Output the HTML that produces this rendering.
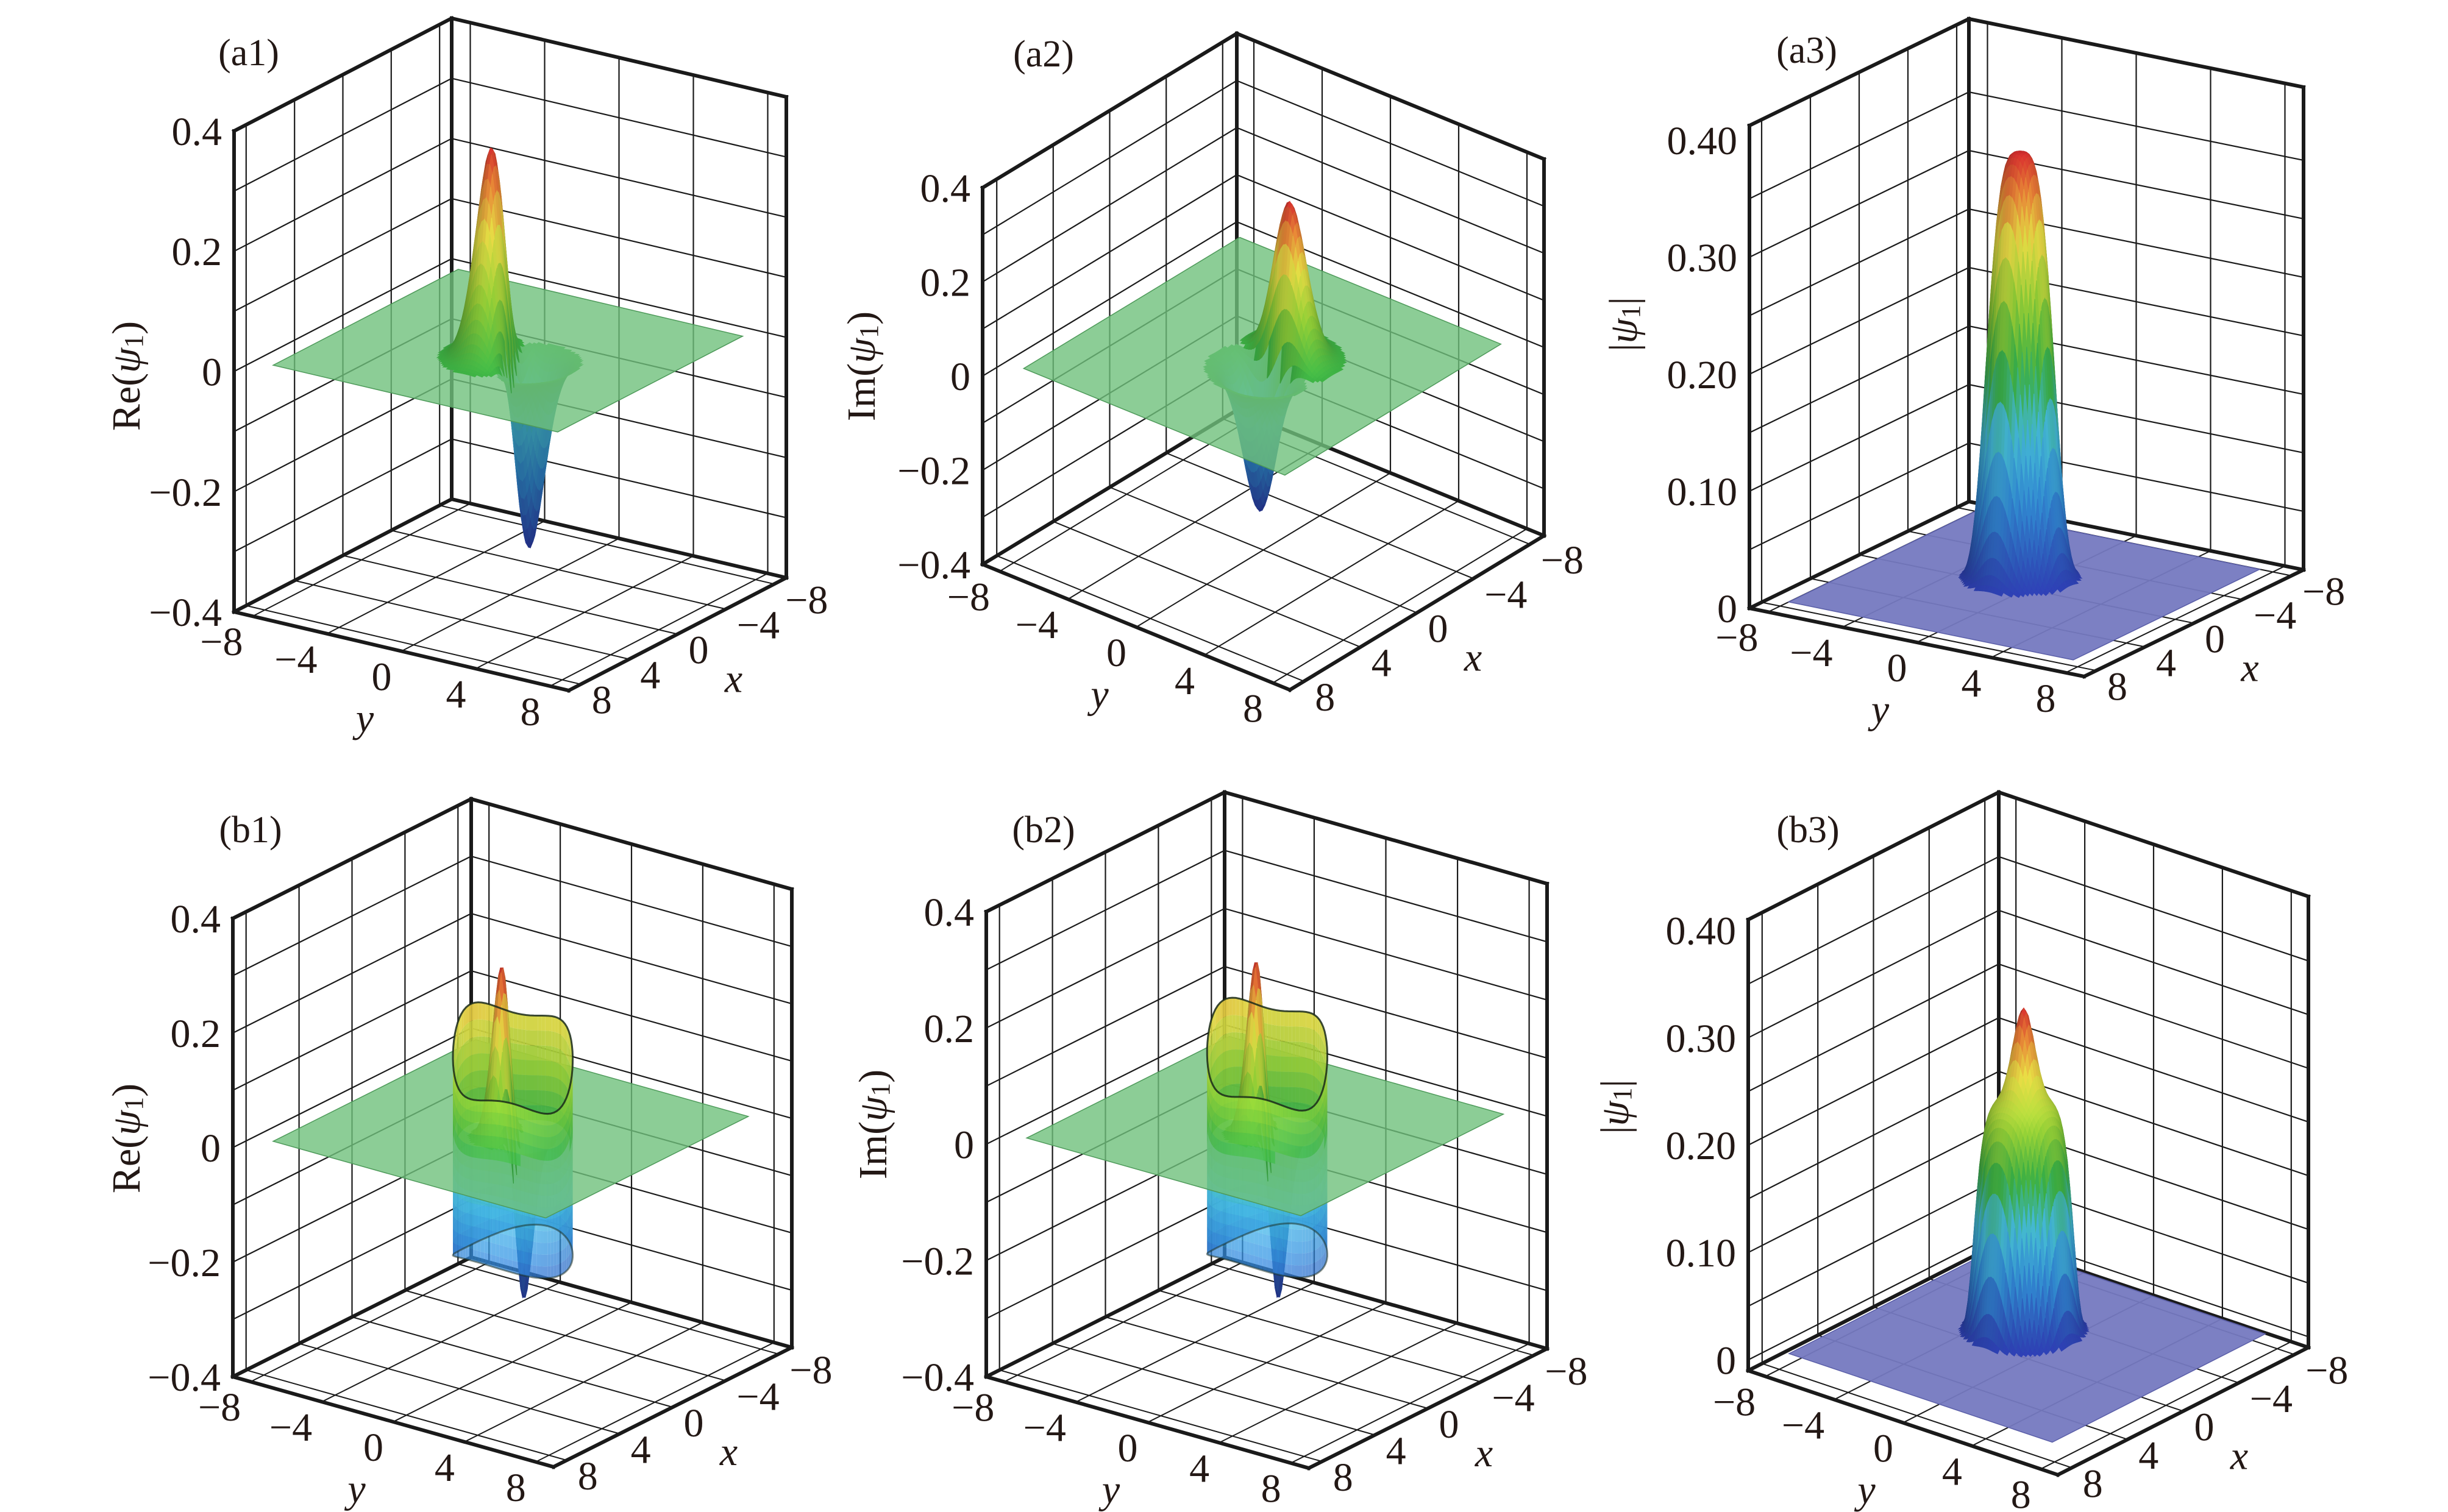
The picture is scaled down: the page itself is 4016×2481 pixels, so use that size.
<!DOCTYPE html>
<html>
<head>
<meta charset="utf-8">
<style>
html,body{margin:0;padding:0;background:#fff;}
svg{display:block;}
text{font-family:"Liberation Serif","DejaVu Serif",serif;fill:#231815;}
</style>
</head>
<body>
<svg id="chart" width="4016" height="2481" viewBox="0 0 4016 2481" xmlns="http://www.w3.org/2000/svg">
<rect x="0" y="0" width="4016" height="2481" fill="#ffffff"/>
</svg>
<script>
// ---- chart data ----
const PANEL_IDS = ['a1','a2','a3','b1','b2','b3'];
const PANEL_KIND = ['re','re','abs','reb','reb','absb'];
const XY_TICKS = [-8,-4,0,4,8];
const XY_LABELS = ['−8','−4','0','4','8'];
const Z_TICKS_RE = [-0.4,-0.2,0,0.2,0.4];
const Z_LABELS_RE = ['−0.4','−0.2','0','0.2','0.4'];
const Z_TICKS_ABS = [0,0.1,0.2,0.3,0.4];
const Z_LABELS_ABS = ['0','0.10','0.20','0.30','0.40'];
const PEAK = [0.35,0.33,0.365,0.30,0.30,0.30];
const TROUGH = [-0.31,-0.30,0,-0.28,-0.28,0];
const SHOULDER = [0,0,0,0,0,0.21];
const CENTER_X = [0.6,-0.2,-1.0,0.5,0.5,-1.4];
const CENTER_Y = [0.4,0.5,-1.0,0.4,0.4,-1.4];
const DIP_ANGLE = [108,-10,0,108,108,0];
const TUBE_RADIUS = [0,0,0,2.7,2.7,0];
const TUBE_TOP_BACK = [0,0,0,0.20,0.20,0];
const TUBE_TOP_FRONT = [0,0,0,0.08,0.08,0];
const TUBE_BOTTOM = [0,0,0,-0.20,-0.20,0];
const TITLE_FN = ['Re','Im','abs','Re','Im','abs'];
const PLANE_RANGE = [-8,7.3];

// ---- layout (pixel geometry, not data) ----
const GEOM = [
 {B:[741,819],L:[384,1004],R:[1290,948],H:789,zmin:-0.4,zmax:0.4,tag:[408,85],title:[214,617]},
 {B:[2029,673],L:[1612,926],R:[2533,879],H:618,zmin:-0.4,zmax:0.4,tag:[1712,87],title:[1420,601]},
 {B:[3230,823],L:[2870,998],R:[3779,935],H:792,zmin:0,zmax:0.4125,tag:[2964,81],title:[2670,532]},
 {B:[773,2063],L:[382,2259],R:[1299,2211],H:752,zmin:-0.4,zmax:0.4,tag:[411,1360],title:[214,1868]},
 {B:[2009,2063],L:[1618,2259],R:[2538,2213],H:763,zmin:-0.4,zmax:0.4,tag:[1712,1360],title:[1439,1845]},
 {B:[3279,2040],L:[2868,2249],R:[3787,2211],H:740,zmin:-0.01,zmax:0.41,tag:[2966,1360],title:[2656,1816]}
];
const XMIN=-9, XMAX=9;
const NS='http://www.w3.org/2000/svg';
const svg=document.getElementById('chart');
const STOPS=[[0,[45,60,175]],[0.2,[50,140,215]],[0.35,[70,190,220]],[0.5,[60,180,70]],[0.65,[150,210,55]],[0.8,[235,225,70]],[0.91,[235,135,55]],[1,[210,45,45]]];
function jet(t){
  t=Math.max(0,Math.min(1,t));
  for(let i=1;i<STOPS.length;i++){
    if(t<=STOPS[i][0]){
      const a=STOPS[i-1],b=STOPS[i];const f=(t-a[0])/(b[0]-a[0]);
      return [0,1,2].map(k=>a[1][k]+(b[1][k]-a[1][k])*f);
    }
  }
  return STOPS[STOPS.length-1][1];
}
function surf(i,x,y){
  const dx=x-CENTER_X[i], dy=y-CENTER_Y[i];
  const r2=dx*dx+dy*dy, r=Math.sqrt(r2);
  const ang=DIP_ANGLE[i]*Math.PI/180;
  const u=dx*Math.cos(ang)+dy*Math.sin(ang);
  const k=PANEL_KIND[i];
  const dip=(s)=>{const v=-(u/s)*Math.exp(-r2/(s*s))/0.4289;return v>0?v*PEAK[i]:v*(-TROUGH[i]);};
  if(k==='re'){return dip(1.25);}
  if(k==='reb'){return dip(0.75);}
  if(k==='abs'){return PEAK[i]*Math.exp(-Math.pow(r/1.7,3.6));}
  return SHOULDER[i]*Math.exp(-Math.pow(r/2.3,8))+(PEAK[i]-SHOULDER[i])*Math.exp(-r2/0.5);
}

for(let i=0;i<PANEL_IDS.length;i++){
  const G=GEOM[i], id=PANEL_IDS[i], kind=PANEL_KIND[i];
  const isAbs=(kind==='abs'||kind==='absb');
  const P=(x,y,z)=>{
    const tx=(x-XMIN)/(XMAX-XMIN), ty=(y-XMIN)/(XMAX-XMIN);
    return [G.B[0]+tx*(G.L[0]-G.B[0])+ty*(G.R[0]-G.B[0]),
            G.B[1]+tx*(G.L[1]-G.B[1])+ty*(G.R[1]-G.B[1])-(z-G.zmin)/(G.zmax-G.zmin)*G.H];
  };
  const g=document.createElementNS(NS,'g');
  
  
  svg.appendChild(g);
  const gridG=document.createElementNS(NS,'g');
  
  
  g.appendChild(gridG);
  function line(par,a,b,w,name){
    const l=document.createElementNS(NS,'line');
    l.setAttribute('x1',a[0].toFixed(1));l.setAttribute('y1',a[1].toFixed(1));
    l.setAttribute('x2',b[0].toFixed(1));l.setAttribute('y2',b[1].toFixed(1));
    l.setAttribute('stroke','#1a1a1a');l.setAttribute('stroke-width',w);
    l.setAttribute('stroke-linecap','square');
    
    
    par.appendChild(l);
  }
  const zstep=isAbs?0.05:0.1;
  for(let z=Math.ceil(G.zmin/zstep-1e-6)*zstep; z<=G.zmax-0.02; z+=zstep){
    if(z<G.zmin+0.005) continue;
    line(gridG,P(XMIN,XMIN,z),P(XMAX,XMIN,z),2.2,'wall-gridline');
    line(gridG,P(XMIN,XMIN,z),P(XMIN,XMAX,z),2.2,'wall-gridline');
  }
  XY_TICKS.forEach(t=>{
    line(gridG,P(t,XMIN,G.zmin),P(t,XMIN,G.zmax),2.2,'wall-gridline');
    line(gridG,P(XMIN,t,G.zmin),P(XMIN,t,G.zmax),2.2,'wall-gridline');
    line(gridG,P(t,XMIN,G.zmin),P(t,XMAX,G.zmin),2,'floor-gridline');
    line(gridG,P(XMIN,t,G.zmin),P(XMAX,t,G.zmin),2,'floor-gridline');
  });
  const boxG=document.createElementNS(NS,'g');
  
  
  g.appendChild(boxG);
  line(boxG,P(XMIN,XMIN,G.zmin),P(XMIN,XMIN,G.zmax),6,'back-vertical-edge');
  line(boxG,P(XMAX,XMIN,G.zmin),P(XMAX,XMIN,G.zmax),6,'z-axis-line');
  line(boxG,P(XMIN,XMAX,G.zmin),P(XMIN,XMAX,G.zmax),6,'right-vertical-edge');
  line(boxG,P(XMIN,XMIN,G.zmax),P(XMAX,XMIN,G.zmax),6,'top-edge');
  line(boxG,P(XMIN,XMIN,G.zmax),P(XMIN,XMAX,G.zmax),6,'top-edge');
  line(boxG,P(XMIN,XMIN,G.zmin),P(XMAX,XMIN,G.zmin),6,'floor-edge');
  line(boxG,P(XMIN,XMIN,G.zmin),P(XMIN,XMAX,G.zmin),6,'floor-edge');
  line(boxG,P(XMAX,XMIN,G.zmin),P(XMAX,XMAX,G.zmin),6,'y-axis-line');
  line(boxG,P(XMIN,XMAX,G.zmin),P(XMAX,XMAX,G.zmin),6,'x-axis-line');

  const half=4.4, n=60, step=2*half/n;
  const cx=CENTER_X[i], cy=CENTER_Y[i];
  const zs=20/(G.zmax-G.zmin);
  const quads=[];
  for(let a=0;a<n;a++)for(let b=0;b<n;b++){
    const x0=cx-half+a*step, y0=cy-half+b*step, x1=x0+step, y1=y0+step;
    const f00=surf(i,x0,y0),f10=surf(i,x1,y0),f11=surf(i,x1,y1),f01=surf(i,x0,y1);
    const mx=Math.max(Math.abs(f00),Math.abs(f10),Math.abs(f11),Math.abs(f01));
    if(mx<0.004) continue;
    const avg=(f00+f10+f11+f01)/4;
    const nx=-((f10-f00)+(f11-f01))/2*zs/step, ny=-((f01-f00)+(f11-f10))/2*zs/step;
    const nl=Math.sqrt(nx*nx+ny*ny+1);
    const dot=(nx*0.45+ny*0.55+0.7)/nl;
    const shade=0.74+0.3*Math.max(0,Math.min(1,dot));
    quads.push({d:x0+y0+step,avg,pts:[P(x0,y0,f00),P(x1,y0,f10),P(x1,y1,f11),P(x0,y1,f01)],shade,op:1});
  }
  const rimTop=[], rimBot=[];
  if(TUBE_RADIUS[i]>0){
    const R=TUBE_RADIUS[i], nt=90, nz=14;
    const backAng=Math.PI*1.25;
    for(let k=0;k<nt;k++){
      const t0=k/nt*2*Math.PI, t1=(k+1)/nt*2*Math.PI, tm=(t0+t1)/2;
      const top=(t)=>{const c=Math.cos(t-backAng);return (TUBE_TOP_BACK[i]+TUBE_TOP_FRONT[i])/2+(TUBE_TOP_BACK[i]-TUBE_TOP_FRONT[i])/2*c+0.02*Math.sin(3*t);};
      const bot=(t)=>TUBE_BOTTOM[i]+0.015*Math.cos(2*t);
      const xa=cx+R*Math.cos(t0), ya=cy+R*Math.sin(t0), xb=cx+R*Math.cos(t1), yb=cy+R*Math.sin(t1);
      const front=Math.cos(tm)+Math.sin(tm)>0;
      const shade=0.95+0.12*Math.max(0,Math.cos(tm-0.6));
      for(let j=0;j<nz;j++){
        const za0=bot(t0)+(top(t0)-bot(t0))*j/nz, za1=bot(t0)+(top(t0)-bot(t0))*(j+1)/nz;
        const zb0=bot(t1)+(top(t1)-bot(t1))*j/nz, zb1=bot(t1)+(top(t1)-bot(t1))*(j+1)/nz;
        quads.push({d:cx+cy+(Math.cos(tm)+Math.sin(tm))*R,avg:(za0+za1+zb0+zb1)/4,
          pts:[P(xa,ya,za0),P(xb,yb,zb0),P(xb,yb,zb1),P(xa,ya,za1)],shade,op:front?0.75:0.95});
      }
      rimTop.push(P(xa,ya,top(t0)));rimBot.push(P(xa,ya,bot(t0)));
    }
  }
  quads.sort((p,q)=>p.d-q.d);
  const lo=isAbs?0:TROUGH[i], hi=PEAK[i];
  function drawQuad(par,q){
    const t=isAbs?(q.avg-lo)/(hi-lo):(q.avg<0?0.5-0.5*q.avg/lo:0.5+0.5*q.avg/hi);
    const c=jet(t).map(v=>Math.round(Math.min(255,v*q.shade)));
    const col='rgb('+c.join(',')+')';
    const pg=document.createElementNS(NS,'polygon');
    pg.setAttribute('points',q.pts.map(p=>p[0].toFixed(1)+','+p[1].toFixed(1)).join(' '));
    pg.setAttribute('fill',col);
    if(q.op<1){pg.setAttribute('fill-opacity',q.op);pg.setAttribute('stroke','none');}
    else {pg.setAttribute('stroke',col);pg.setAttribute('stroke-width','1.2');}
    
    
    par.appendChild(pg);
  }
  const below=document.createElementNS(NS,'g');
  
  
  g.appendChild(below);
  const pr=PLANE_RANGE;
  const plane=document.createElementNS(NS,'polygon');
  plane.setAttribute('points',[P(pr[0],pr[0],0),P(pr[1],pr[0],0),P(pr[1],pr[1],0),P(pr[0],pr[1],0)].map(p=>p[0].toFixed(1)+','+p[1].toFixed(1)).join(' '));
  plane.setAttribute('fill',isAbs?'#7579c0':'#6fc07c');
  plane.setAttribute('fill-opacity',isAbs?'0.95':'0.8');
  plane.setAttribute('stroke',isAbs?'#5a5ea8':'#4e9a5a');
  plane.setAttribute('stroke-width','1.5');
  
  
  g.appendChild(plane);
  const above=document.createElementNS(NS,'g');
  
  
  g.appendChild(above);
  quads.forEach(q=>{ if(!isAbs && q.avg<0) drawQuad(below,q); else drawQuad(above,q); });
  if(rimTop.length){
    [rimTop,rimBot].forEach((rim,k)=>{
      const pl=document.createElementNS(NS,'polygon');
      pl.setAttribute('points',rim.map(p=>p[0].toFixed(1)+','+p[1].toFixed(1)).join(' '));
      pl.setAttribute('fill','none');pl.setAttribute('stroke','#1a2a1a');pl.setAttribute('stroke-width','3');
      pl.setAttribute('stroke-opacity',k?'0.5':'0.85');
      
      
      (k?below:above).appendChild(pl);
    });
  }

  function txt(x,y,s,anchor,name,size){
    const t=document.createElementNS(NS,'text');
    t.setAttribute('x',x.toFixed(1));t.setAttribute('y',y.toFixed(1));
    t.setAttribute('text-anchor',anchor);t.setAttribute('font-size',size||66);
    t.textContent=s;
    
    
    g.appendChild(t);return t;
  }
  const zt=isAbs?Z_TICKS_ABS:Z_TICKS_RE, zl=isAbs?Z_LABELS_ABS:Z_LABELS_RE;
  zt.forEach((z,k)=>{const p=P(XMAX,XMIN,z);txt(p[0]-20,p[1]+23,zl[k],'end','z-tick-label');});
  XY_TICKS.forEach((t,k)=>{const p=P(XMAX,t,G.zmin);txt(p[0]-16,p[1]+64,XY_LABELS[k],'end','y-tick-label');});
  XY_TICKS.forEach((t,k)=>{const p=P(t,XMAX,G.zmin);txt(p[0]+18,p[1]+48,XY_LABELS[k],'start','x-tick-label');});
  const py=P(XMAX,0,G.zmin);
  const ty=txt(py[0]-60,py[1]+132,'y','middle','y-axis-title');ty.setAttribute('font-style','italic');
  const px=P(0,XMAX,G.zmin);
  const tx=txt(px[0]+92,px[1]+95,'x','middle','x-axis-title');tx.setAttribute('font-style','italic');
  txt(G.tag[0],G.tag[1]+22,'('+id+')','middle','panel-tag-'+id,62);
  const tt=document.createElementNS(NS,'text');
  tt.setAttribute('x',G.title[0]);tt.setAttribute('y',G.title[1]);
  tt.setAttribute('text-anchor','middle');tt.setAttribute('font-size','66');
  tt.setAttribute('dominant-baseline','middle');
  tt.setAttribute('transform','rotate(-90 '+G.title[0]+' '+G.title[1]+')');
  const fn=TITLE_FN[i];
  const pre=document.createElementNS(NS,'tspan');
  pre.textContent=(fn==='abs')?'|':fn+'(';
  tt.appendChild(pre);
  const psi=document.createElementNS(NS,'tspan');psi.setAttribute('font-style','italic');psi.textContent='ψ';
  tt.appendChild(psi);
  const sub=document.createElementNS(NS,'tspan');sub.setAttribute('font-size','44');sub.setAttribute('dy','10');sub.textContent='1';
  tt.appendChild(sub);
  const post=document.createElementNS(NS,'tspan');post.setAttribute('dy','-10');post.textContent=(fn==='abs')?'|':')';
  tt.appendChild(post);
  
  
  g.appendChild(tt);
}
</script>
</body>
</html>
